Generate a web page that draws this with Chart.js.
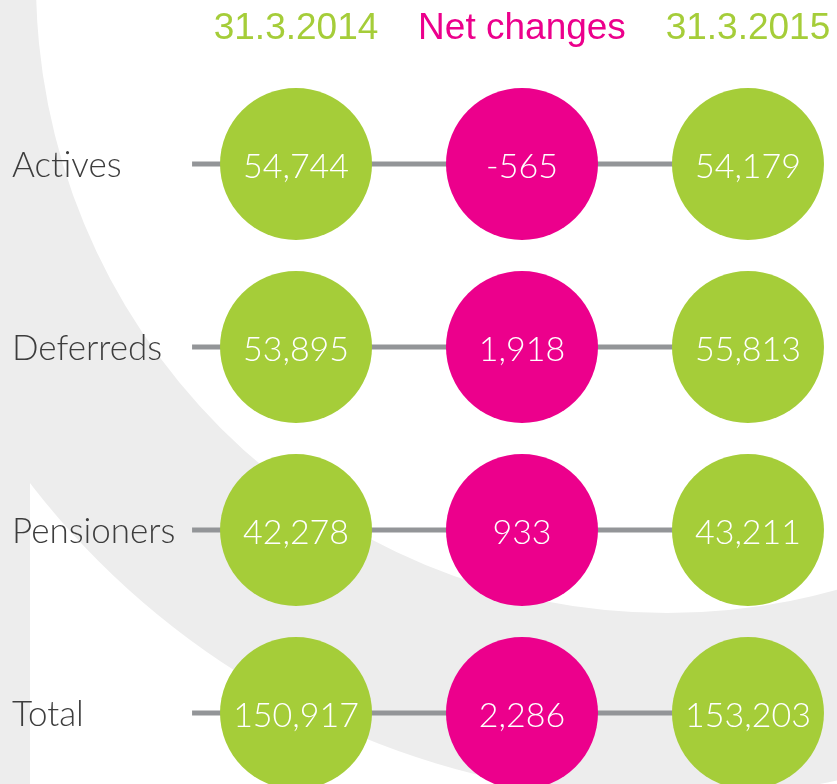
<!DOCTYPE html>
<html>
<head>
<meta charset="utf-8">
<title>Membership changes</title>
<script src="https://cdn.jsdelivr.net/npm/chart.js@4.4.1/dist/chart.umd.min.js"></script>
<style>
  html, body { margin: 0; padding: 0; background: #fff; }
  #wrap { width: 837px; height: 784px; position: relative; }
</style>
</head>
<body>
<div id="wrap"><canvas id="membersChart"></canvas></div>
<script>
// Membership by category, 31.3.2014 -> 31.3.2015
const categories = ['Actives', 'Deferreds', 'Pensioners', 'Total'];
const columns = ['31.3.2014', 'Net changes', '31.3.2015'];
const opening = [54744, 53895, 42278, 150917];
const netChanges = [-565, 1918, 933, 2286];
const closing = [54179, 55813, 43211, 153203];

const GREEN = '#a5cd39';
const PINK = '#ec008c';
const LINE_GREY = '#939598';
const RING_GREY = '#ededed';
const LIGHT_FONT = 'Lato, Roboto, "Open Sans", sans-serif';
const HEAD_FONT = '"Liberation Sans", Arial, sans-serif';
const headerColors = [GREEN, PINK, GREEN];

// connector lines start a bit left of the first column
const LINE_START = -0.46;

/**
 * One column of circles.
 */
function circleDataset(values, col, color) {
  return {
    data: categories.map(c => ({ x: col, y: c })),
    values,
    backgroundColor: color,
    borderWidth: 0,
    pointRadius: 76,
    pointHoverRadius: 76,
    clip: false,
    order: 0
  };
}

/**
 * Grey line running behind a row of circles.
 */
function connectorDataset(cat) {
  return {
    data: [{ x: LINE_START, y: cat }, { x: columns.length - 1, y: cat }],
    showLine: true,
    borderColor: LINE_GREY,
    borderWidth: 5,
    pointRadius: 0,
    clip: false,
    order: 1
  };
}

// big grey arc in the background
const backdrop = {
  id: 'backdrop',
  beforeDraw(chart) {
    const { ctx, height } = chart;
    ctx.save();
    ctx.fillStyle = RING_GREY;
    ctx.beginPath();
    ctx.arc(670, -10, 808, 0, Math.PI * 2);
    ctx.moveTo(667 + 631, -18);
    ctx.arc(667, -18, 631, 0, Math.PI * 2);
    ctx.fill('evenodd');
    ctx.fillRect(0, 0, 30, height);
    ctx.restore();
  }
};

// numbers written inside the circles
const circleLabels = {
  id: 'circleLabels',
  afterDatasetsDraw(chart) {
    const { ctx } = chart;
    ctx.save();
    ctx.fillStyle = '#ffffff';
    ctx.font = `300 34px ${LIGHT_FONT}`;
    ctx.textAlign = 'center';
    ctx.textBaseline = 'middle';
    chart.data.datasets.forEach((ds, i) => {
      if (!ds.values) return;
      chart.getDatasetMeta(i).data.forEach((pt, j) => {
        ctx.fillText(ds.values[j].toLocaleString('en-US'), pt.x, pt.y + 3);
      });
    });
    ctx.restore();
  }
};

function init() {
  const ctx = document.getElementById('membersChart').getContext('2d');
  new Chart(ctx, {
    type: 'scatter',
    data: {
      datasets: [
        circleDataset(opening, 0, GREEN),
        circleDataset(netChanges, 1, PINK),
        circleDataset(closing, 2, GREEN),
        ...categories.map(connectorDataset)
      ]
    },
    options: {
      responsive: true,
      maintainAspectRatio: false,
      animation: false,
      events: [],
      layout: {
        autoPadding: false,
        padding: { left: 12, top: 0, right: 0, bottom: 71 }
      },
      plugins: {
        legend: { display: false },
        tooltip: { enabled: false }
      },
      scales: {
        x: {
          type: 'linear',
          position: 'top',
          min: -0.478,
          max: 2.394,
          grid: { display: false, drawTicks: false },
          border: { display: false },
          afterBuildTicks: axis => { axis.ticks = columns.map((_, i) => ({ value: i })); },
          afterFit: axis => {
            axis.height = 164;
            axis.paddingLeft = 0;
            axis.paddingRight = 0;
          },
          ticks: {
            padding: 113,
            maxRotation: 0,
            autoSkip: false,
            color: c => headerColors[c.index],
            font: { family: HEAD_FONT, size: 37, lineHeight: 1.2 },
            callback: (v, i) => columns[i]
          }
        },
        y: {
          type: 'category',
          labels: categories,
          position: 'left',
          grid: { display: false, drawTicks: false },
          border: { display: false },
          afterFit: axis => {
            axis.width = 176;
            axis.paddingTop = 0;
            axis.paddingBottom = 0;
          },
          ticks: {
            crossAlign: 'far',
            padding: 0,
            labelOffset: 2,
            color: '#3d3d3d',
            font: { family: LIGHT_FONT, size: 35, weight: 300, lineHeight: 1.2 }
          }
        }
      }
    },
    plugins: [backdrop, circleLabels]
  });
}

document.addEventListener('DOMContentLoaded', init);
</script>
</body>
</html>
